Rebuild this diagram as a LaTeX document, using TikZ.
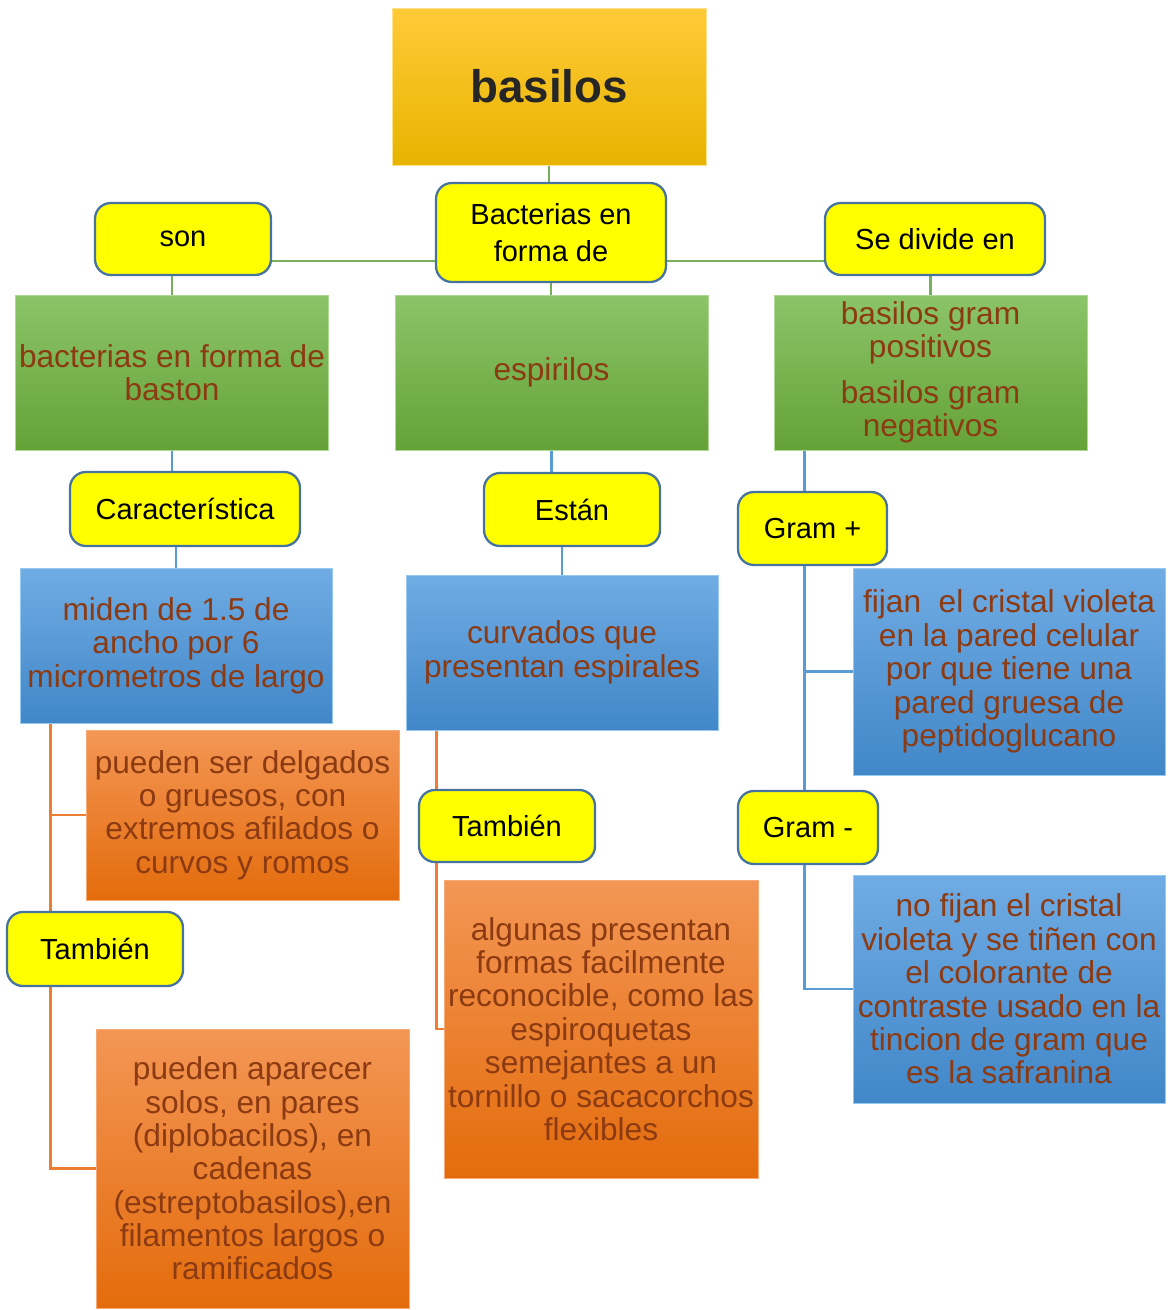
\documentclass[tikz,border=0pt]{standalone}
\usepackage{fontspec}
\setmainfont{Liberation Sans}
\usetikzlibrary{backgrounds}
\definecolor{textbrown}{RGB}{140,58,18}
\definecolor{keyedge}{RGB}{70,115,160}
\definecolor{glinecol}{RGB}{120,175,90}
\definecolor{blinecol}{RGB}{91,155,213}
\definecolor{olinecol}{RGB}{237,125,49}
\begin{document}
\begin{tikzpicture}[
        x=0.02cm, y=-0.02cm,
        titlebox/.style={shade, top color={rgb,255:red,255;green,202;blue,55}, bottom color={rgb,255:red,232;green,180;blue,0},
            draw={rgb,255:red,255;green,225;blue,140}, text={rgb,255:red,38;green,38;blue,38},
            font=\fontsize{26}{30}\selectfont\bfseries},
        keybox/.style={fill={rgb,255:red,255;green,255;blue,0}, draw=keyedge, line width=1.3pt, rounded corners=9pt,
            font=\fontsize{16.5}{21}\selectfont, align=center, inner sep=2pt},
        greenbox/.style={shade, top color={rgb,255:red,140;green,196;blue,105}, bottom color={rgb,255:red,100;green,162;blue,55},
            draw={rgb,255:red,175;green,215;blue,150}, text=textbrown, align=center, inner sep=1pt,
            font=\fontsize{18}{19}\selectfont},
        bluebox/.style={greenbox, top color={rgb,255:red,112;green,172;blue,228}, bottom color={rgb,255:red,65;green,135;blue,200},
            draw={rgb,255:red,150;green,200;blue,240}},
        orangebox/.style={greenbox, top color={rgb,255:red,243;green,150;blue,85}, bottom color={rgb,255:red,228;green,108;blue,12},
            draw={rgb,255:red,245;green,170;blue,120}},
        gline/.style={draw=glinecol, line width=1.5pt},
        bline/.style={draw=blinecol, line width=1.5pt},
        oline/.style={draw=olinecol, line width=1.5pt},
    ]
    \useasboundingbox (0,0) rectangle (1167,1310);

    \node[titlebox, minimum width=6.28cm, minimum height=3.14cm](basilos) at (549,86.5){basilos};
    \node[keybox, minimum width=4.6cm, minimum height=1.98cm](bact) at (551,232.5){Bacterias en\\forma de};
    \node[keybox, minimum width=3.52cm, minimum height=1.44cm](son) at (183,239){son};
    \node[keybox, minimum width=4.4cm, minimum height=1.44cm](sediv) at (935,239){Se divide en};

    \node[greenbox, minimum width=6.26cm, minimum height=3.1cm](baston) at (172,372.5){bacterias en forma de\\baston};
    \node[greenbox, minimum width=6.26cm, minimum height=3.1cm](espirilos) at (551.5,372.5){espirilos};
    \node[greenbox, minimum width=6.26cm, minimum height=3.1cm](gram) at (930.5,372.5){basilos gram\\positivos\\[7pt]basilos gram\\negativos};

    \node[keybox, minimum width=4.6cm, minimum height=1.48cm](carac) at (185,509){Característica};
    \node[keybox, minimum width=3.52cm, minimum height=1.46cm](estan) at (572,509.5){Están};
    \node[keybox, minimum width=2.98cm, minimum height=1.46cm](gplus) at (812.5,528.5){Gram +};
    \node[keybox, minimum width=2.8cm, minimum height=1.46cm](gminus) at (808,827.5){Gram -};

    \node[bluebox, minimum width=6.24cm, minimum height=3.1cm](miden) at (176,645.5){miden de 1.5 de\\ancho por 6\\micrometros de largo};
    \node[bluebox, minimum width=6.24cm, minimum height=3.1cm](curvados) at (562,652.5){curvados que\\presentan espirales};
    \node[bluebox, minimum width=6.24cm, minimum height=4.14cm](fijan) at (1009,671.5){fijan\ \ el cristal violeta\\en la pared celular\\por que tiene una\\pared gruesa de\\peptidoglucano};
    \node[bluebox, minimum width=6.24cm, minimum height=4.56cm](nofijan) at (1009,989){no fijan el cristal\\violeta y se tiñen con\\el colorante de\\contraste usado en la\\tincion de gram que\\es la safranina};

    \node[orangebox, minimum width=6.26cm, minimum height=3.4cm](delgados) at (242.5,815){pueden ser delgados\\o gruesos, con\\extremos afilados o\\curvos y romos};
    \node[keybox, minimum width=3.52cm, minimum height=1.48cm](tamb1) at (95,949){También};
    \node[orangebox, minimum width=6.26cm, minimum height=5.58cm](aparecer) at (252.5,1168.5){pueden aparecer\\solos, en pares\\(diplobacilos), en\\cadenas\\(estreptobasilos),en\\filamentos largos o\\ramificados};
    \node[keybox, minimum width=3.52cm, minimum height=1.44cm](tamb2) at (507,826){También};
    \node[orangebox, minimum width=6.28cm, minimum height=5.96cm](algunas) at (601,1029){algunas presentan\\formas facilmente\\reconocible, como las\\espiroquetas\\semejantes a un\\tornillo o sacacorchos\\flexibles};

    \begin{pgfonlayer}{background}
    \coordinate (hl) at (0,261);
    \draw[gline] (basilos.south) -- (basilos.south |- bact.north);
    \draw[gline] (son.east |- hl) -- (bact.west |- hl);
    \draw[gline] (bact.east |- hl) -- (sediv.west |- hl);
    \draw[gline] (son.south -| baston.north) -- (baston.north);
    \draw[gline] (bact.south) -- (bact.south |- espirilos.north);
    \draw[gline] (sediv.south -| gram.north) -- (gram.north);

    \draw[bline] (baston.south) -- (baston.south |- carac.north);
    \draw[bline] (carac.south -| miden.north) -- (miden.north);
    \draw[bline] (espirilos.south) -- (espirilos.south |- estan.north);
    \draw[bline] (estan.south -| curvados.north) -- (curvados.north);
    \coordinate (rv) at ([xshift=0.62cm]gram.south west);
    \draw[bline] (rv) |- (fijan.west);
    \draw[bline] (rv) |- (nofijan.west);

    \coordinate (lv) at ([xshift=0.62cm]miden.south west);
    \draw[oline] (lv) |- (delgados.west);
    \draw[oline] (lv) |- (aparecer.west);
    \coordinate (mv) at ([xshift=0.62cm]curvados.south west);
    \draw[oline] (mv) |- (algunas.west);
    \end{pgfonlayer}
\end{tikzpicture}
\end{document}
